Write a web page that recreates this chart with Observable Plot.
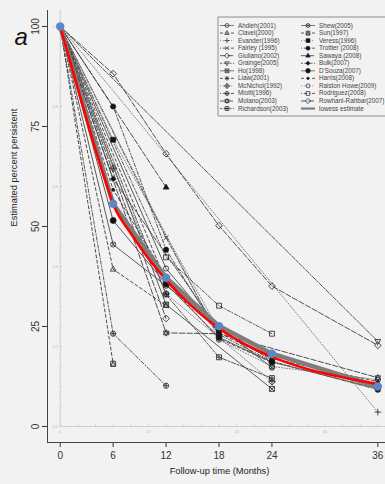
<!DOCTYPE html>
<html><head><meta charset="utf-8">
<script src="https://cdn.jsdelivr.net/npm/d3@7"></script>
<script src="https://cdn.jsdelivr.net/npm/@observablehq/plot@0.6"></script>
<style>
html,body{margin:0;padding:0;background:#f2f2f2;}
#wrap{width:385px;height:484px;overflow:hidden;background:#f2f2f2;}
</style></head>
<body><div id="wrap"></div>
<script>
// ---------------- data ----------------
const months = [0, 6, 12, 18, 24, 36];
const studies = ["Ahdieh(2001)","Clavel(2000)","Evander(1996)","Fairley (1995)","Giuliano(2002)","Grainge(2005)","Ho(1998)","Liaw(2001)","McNichol(1992)","Miotti(1996)","Molano(2003)","Richardson(2003)","Shew(2005)","Sun(1997)","Veress(1996)","Trottier (2008)","Sawaya (2008)","Bulk(2007)","D'Souza(2007)","Harris(2008)","Ralston Howe(2009)","Rodriguez(2008)","Rowhani-Rahbar(2007)"];
// percent persistent at months 0, 6, 12, 18, 24, 36 (null = not reported)
const ahdieh      = [100, null, 39.5, 23.8, null, null];
const clavel      = [100, 39.3, 30.2, null, null, null];
const evander     = [100, null, null, null, null, 3.6];
const fairley     = [100, null, 47.2, 22.6, null, null];
const giuliano    = [100, null, 27.0, null, null, null];
const grainge     = [100, null, null, null, null, 21.3];
const ho          = [100, null, 30.5, null, 9.4, null];
const liaw        = [100, null, 36.2, 22.0, 16.0, null];
const mcnichol    = [100, 64.6, 33.2, null, 11.2, null];
const miotti      = [100, 23.2, 10.2, null, null, null];
const molano      = [100, null, 23.4, 23.2, null, 12.2];
const richardson  = [100, null, 33.0, 17.3, 12.1, null];
const shew        = [100, 45.5, 35.2, null, 14.7, null];
const sun         = [100, 15.7, null, null, null, null];
const veress      = [100, 71.7, null, 24.0, null, null];
const trottier    = [100, 80.0, 44.2, 23.0, 16.3, 9.2];
const sawaya      = [100, null, 59.8, null, null, null];
const bulk        = [100, 61.9, null, 24.2, 16.6, null];
const dsouza      = [100, 51.5, 35.6, 22.3, 16.1, 9.5];
const harris      = [100, 59.2, 37.4, 23.4, 17.0, 11.2];
const ralstonHowe = [100, null, null, 21.7, 15.0, 11.7];
const rodriguez   = [100, null, 42.3, 30.2, 23.2, null];
const rowhani     = [100, 88.2, 68.2, 50.2, 35.1, 20.3];
const studySeries = [ahdieh, clavel, evander, fairley, giuliano, grainge, ho, liaw, mcnichol, miotti, molano, richardson, shew, sun, veress, trottier, sawaya, bulk, dsouza, harris, ralstonHowe, rodriguez, rowhani];

const lowess = [100, 55.7, 37.2, 25.1, 18.2, 10.0];
const fitMonths = [0, 1, 2, 3, 4, 5, 6, 8, 10, 12, 15, 18, 21, 24, 28, 32, 36];
const fitValues = [100, 92.3, 84.5, 76.7, 69.2, 62.2, 55.6, 48.3, 42.0, 36.6, 29.9, 24.5, 20.5, 17.4, 14.4, 12.3, 10.6];

const xTicks = [0, 6, 12, 18, 24, 36];
const yTicks = [0, 25, 50, 75, 100];
const innerXTicks = [0,2,4,6,8,10,12,14,16,18,20,22,24,26,28,30,32,34,36];
const innerXLabels = [0, 10, 20, 30];
const innerYTicks = [0,5,10,15,20,25,30,35,40,45,50,55,60,65,70,75,80,85,90,95,100];
const innerYLabelPos = [0, 20, 40, 60, 80, 100];
const innerYLabels = ["0.0", "0.2", "0.4", "0.6", "0.8", "1.0"];
const legendNames = studies.concat(["lowess estimate"]);

// ---------------- symbols ----------------
function mk(fn){ return {draw(c, size){ const r = Math.sqrt(size/Math.PI); fn(c, r); }}; }
const P = {
  circ:(c,r)=>{c.moveTo(r,0);c.arc(0,0,r,0,2*Math.PI);c.closePath();},
  sq:(c,r)=>{const s=r*0.95;c.moveTo(-s,-s);c.lineTo(s,-s);c.lineTo(s,s);c.lineTo(-s,s);c.closePath();},
  pl:(c,r)=>{c.moveTo(-r,0);c.lineTo(r,0);c.moveTo(0,-r);c.lineTo(0,r);},
  tx:(c,r)=>{const s=r*0.95;c.moveTo(-s,-s);c.lineTo(s,s);c.moveTo(s,-s);c.lineTo(-s,s);},
  dm:(c,r)=>{const s=r*1.3;c.moveTo(0,-s);c.lineTo(s,0);c.lineTo(0,s);c.lineTo(-s,0);c.closePath();},
  tu:(c,r)=>{c.moveTo(0,-r*1.25);c.lineTo(r*1.1,r*0.7);c.lineTo(-r*1.1,r*0.7);c.closePath();},
  td:(c,r)=>{c.moveTo(0,r*1.25);c.lineTo(r*1.1,-r*0.7);c.lineTo(-r*1.1,-r*0.7);c.closePath();}
};
const S = {
  circle: mk(P.circ),
  triUp: mk(P.tu),
  plus: mk((c,r)=>P.pl(c,r*1.3)),
  times: mk(P.tx),
  diamond: mk(P.dm),
  triDown: mk(P.td),
  squareTimes: mk((c,r)=>{P.sq(c,r);P.tx(c,r);}),
  asterisk: mk((c,r)=>{P.pl(c,r*1.2);P.tx(c,r*0.9);}),
  diamondPlus: mk((c,r)=>{P.dm(c,r);P.pl(c,r*1.3);}),
  circlePlus: mk((c,r)=>{P.circ(c,r);P.pl(c,r);}),
  starDavid: mk((c,r)=>{P.tu(c,r);P.td(c,r);}),
  squarePlus: mk((c,r)=>{P.sq(c,r);P.pl(c,r*0.95);}),
  circleTimes: mk((c,r)=>{P.circ(c,r);P.tx(c,r*0.72);}),
  squareTri: mk((c,r)=>{P.sq(c,r);const s=r*0.95;c.moveTo(0,-s);c.lineTo(s,s);c.lineTo(-s,s);c.closePath();}),
  square: mk(P.sq),
  diamondSmall: mk((c,r)=>P.dm(c,r*0.8)),
  hseg: mk((c,r)=>{c.moveTo(-r,0);c.lineTo(r,0);}),
  vtick: {draw(c){ c.moveTo(0,0); c.lineTo(0,-2); }},
  htick: {draw(c){ c.moveTo(0,0); c.lineTo(2,0); }},
  box: {draw(c){ c.moveTo(200,0); c.lineTo(0,0); c.lineTo(0,99); c.lineTo(200,99); }}
};
// marker per study (R pch 1..23), line type cycles like R lty 1..6
const markerStyle = [
  {s:S.circle},{s:S.triUp},{s:S.plus},{s:S.times},{s:S.diamond},{s:S.triDown},
  {s:S.squareTimes},{s:S.asterisk},{s:S.diamondPlus},{s:S.circlePlus},{s:S.starDavid},{s:S.squarePlus},
  {s:S.circleTimes},{s:S.squareTri},{s:S.square,f:true},{s:S.circle,f:true},{s:S.triUp,f:true},
  {s:S.diamondSmall,f:true},{s:S.circle,f:true,k:1.15},{s:S.circle,f:true,k:0.6},{s:S.circle},{s:S.square},{s:S.diamond}
];
const ltys = [null, "3,2.5", "1,1.8", "1,1.8,3.5,1.8", "5.5,2", "2,1.5,4.5,1.5"];
const ltyColor = ["#5a5a5a", "#2e2e2e", "#6a6a6a", "#3a3a3a", "#333333", "#3a3a3a"];

// ---------------- tables ----------------
const rows = [];
studies.forEach((s, i) => studySeries[i].forEach((v, j) => { if (v != null) rows.push({study: s, idx: i, month: months[j], value: v}); }));
const lowessRows = months.map((m, j) => ({month: m, value: lowess[j]}));
const fitRows = fitMonths.map((m, j) => ({month: m, value: fitValues[j]}));

const R = 2.6;
const studyMarks = [];
studies.forEach((s, i) => {
  const d = rows.filter(r => r.idx === i);
  studyMarks.push(Plot.line(d, {x: "month", y: "value", stroke: ltyColor[i % 6], strokeWidth: i % 6 === 0 ? 1 : 0.85, strokeDasharray: ltys[i % 6] || undefined}));
});
studies.forEach((s, i) => {
  const d = rows.filter(r => r.idx === i && r.month > 0);
  const m = markerStyle[i];
  studyMarks.push(Plot.dot(d, {x: "month", y: "value", symbol: m.s, r: R * (m.k || 1), stroke: "#222", strokeWidth: 0.8, fill: m.f ? "#111" : "none"}));
});

// ---------------- legend (inside the plot, offsets from the frame's top-left corner) ----------------
const LX = 170, LY = 6;   // legend box origin relative to frame
const legendMarks = [
  Plot.dot([0], {frameAnchor: "top-left", dx: LX + 0.5, dy: LY + 0.5, symbol: S.box, r: 1, stroke: "#8c8c8c", strokeWidth: 1, fill: "none"})
];
legendNames.forEach((name, i) => {
  const col = Math.floor(i / 12), row = i % 12;
  const cx = LX + (col === 0 ? 9.5 : 90.5);
  const cy = LY + 9 + row * 7.55;
  if (i < 23) {
    legendMarks.push(Plot.dot([0], {frameAnchor: "top-left", dx: cx, dy: cy, symbol: S.hseg, r: 7, stroke: ltyColor[i % 6], strokeWidth: 0.8, strokeDasharray: ltys[i % 6] || undefined, fill: "none"}));
    const m = markerStyle[i];
    legendMarks.push(Plot.dot([0], {frameAnchor: "top-left", dx: cx, dy: cy, symbol: m.s, r: 2.0 * (m.k || 1), stroke: "#222", strokeWidth: 0.7, fill: m.f ? "#111" : "none"}));
  } else {
    legendMarks.push(Plot.dot([0], {frameAnchor: "top-left", dx: cx, dy: cy, symbol: S.hseg, r: 7, stroke: "#7d7d7d", strokeWidth: 2.2, fill: "none"}));
  }
  legendMarks.push(Plot.text([name], {frameAnchor: "top-left", dx: cx + 11, dy: cy, textAnchor: "start", lineAnchor: "middle", fontSize: 6.3, fill: "#444"}));
});

const ff = "'Liberation Sans', Arimo, Arial, sans-serif";
const main = Plot.plot({
  width: 385, height: 484,
  marginLeft: 47, marginRight: 0, marginTop: 10, marginBottom: 42,
  style: {background: "#f2f2f2", fontFamily: ff, fontSize: "10px", color: "#333"},
  x: {domain: [-1.44, 36.87], ticks: xTicks, tickSize: 5, tickPadding: 4, label: null},
  y: {domain: [-4, 104], ticks: yTicks, tickSize: 5, tickPadding: 4, tickRotate: -90, label: null},
  marks: [
    // faint inner axes
    Plot.ruleX([0], {y1: 0, y2: 104, stroke: "#c4c4c4", strokeWidth: 0.8}),
    Plot.ruleY([0], {x1: 0, x2: 36.87, stroke: "#c4c4c4", strokeWidth: 0.8}),
    Plot.dot(innerXTicks, {x: d => d, y: 0, symbol: S.vtick, r: 1, stroke: "#c4c4c4", strokeWidth: 0.7}),
    Plot.dot(innerYTicks, {x: 0, y: d => d, symbol: S.htick, r: 1, stroke: "#c4c4c4", strokeWidth: 0.7}),
    Plot.text(innerXLabels, {x: d => d, y: 0, dy: 5, text: d => String(d), fontSize: 4, fill: "#b8b8b8"}),
    Plot.text(innerYLabelPos, {x: 0, y: d => d, dx: -5, text: (d, i) => innerYLabels[i], fontSize: 4, fill: "#b8b8b8"}),
    // main axis lines
    Plot.ruleX([-1.44], {stroke: "#444", strokeWidth: 1}),
    Plot.ruleY([-4], {stroke: "#444", strokeWidth: 1}),
    ...studyMarks,
    Plot.line(lowessRows, {x: "month", y: "value", stroke: "#7d7d7d", strokeWidth: 4.5, strokeLinejoin: "round"}),
    Plot.line(fitRows, {x: "month", y: "value", stroke: "#ff0000", strokeWidth: 2.6, curve: "monotone-x"}),
    Plot.dot(lowessRows, {x: "month", y: "value", r: 4.2, fill: "#5b87c6", stroke: "none"}),
    ...legendMarks,
    Plot.text(["Estimated percent persistent"], {frameAnchor: "left", dx: -33, rotate: -90, fontSize: 9.3, fill: "#222"}),
    Plot.text(["Follow-up time (Months)"], {frameAnchor: "bottom", dx: 3, dy: 31, fontSize: 9.3, fill: "#222"}),
    Plot.text(["a"], {frameAnchor: "top-left", dx: -33, dy: 17, fontSize: 24, fontStyle: "italic", fill: "#111"})
  ]
});
document.getElementById("wrap").appendChild(main);
</script>
</body></html>
